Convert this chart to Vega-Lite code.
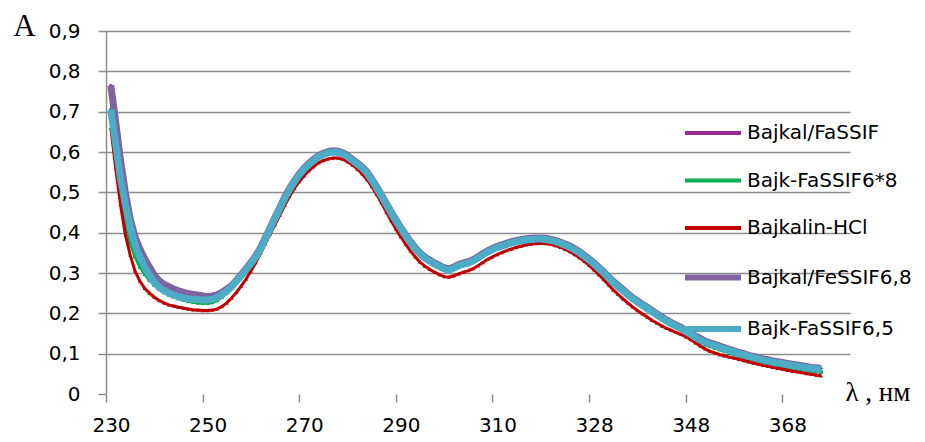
{
  "$schema": "https://vega.github.io/schema/vega-lite/v6.json",
  "width": 744,
  "height": 363,
  "autosize": {"type": "none"},
  "padding": {"left": 106, "top": 31, "right": 75, "bottom": 48},
  "background": "white",
  "config": {"view": {"stroke": null}, "font": "DejaVu Sans"},
  "data": {"values": [
{"i":1,"Bajkal/FaSSIF":0.765,"Bajk-FaSSIF6*8":0.704,"Bajkalin-HCl":0.660,"Bajkal/FeSSIF6,8":0.765,"Bajk-FaSSIF6,5":0.705},
{"i":2,"Bajkal/FaSSIF":0.670,"Bajk-FaSSIF6*8":0.580,"Bajkalin-HCl":0.560,"Bajkal/FeSSIF6,8":0.675,"Bajk-FaSSIF6,5":0.620},
{"i":3,"Bajkal/FaSSIF":0.575,"Bajk-FaSSIF6*8":0.490,"Bajkalin-HCl":0.470,"Bajkal/FeSSIF6,8":0.580,"Bajk-FaSSIF6,5":0.535},
{"i":4,"Bajkal/FaSSIF":0.500,"Bajk-FaSSIF6*8":0.420,"Bajkalin-HCl":0.395,"Bajkal/FeSSIF6,8":0.500,"Bajk-FaSSIF6,5":0.470},
{"i":5,"Bajkal/FaSSIF":0.439,"Bajk-FaSSIF6*8":0.375,"Bajkalin-HCl":0.345,"Bajkal/FeSSIF6,8":0.435,"Bajk-FaSSIF6,5":0.415},
{"i":6,"Bajkal/FaSSIF":0.394,"Bajk-FaSSIF6*8":0.340,"Bajkalin-HCl":0.305,"Bajkal/FeSSIF6,8":0.390,"Bajk-FaSSIF6,5":0.370},
{"i":7,"Bajkal/FaSSIF":0.364,"Bajk-FaSSIF6*8":0.315,"Bajkalin-HCl":0.280,"Bajkal/FeSSIF6,8":0.360,"Bajk-FaSSIF6,5":0.340},
{"i":8,"Bajkal/FaSSIF":0.339,"Bajk-FaSSIF6*8":0.297,"Bajkalin-HCl":0.262,"Bajkal/FeSSIF6,8":0.335,"Bajk-FaSSIF6,5":0.315},
{"i":9,"Bajkal/FaSSIF":0.319,"Bajk-FaSSIF6*8":0.282,"Bajkalin-HCl":0.250,"Bajkal/FeSSIF6,8":0.315,"Bajk-FaSSIF6,5":0.295},
{"i":10,"Bajkal/FaSSIF":0.299,"Bajk-FaSSIF6*8":0.270,"Bajkalin-HCl":0.240,"Bajkal/FeSSIF6,8":0.295,"Bajk-FaSSIF6,5":0.277},
{"i":11,"Bajkal/FaSSIF":0.285,"Bajk-FaSSIF6*8":0.260,"Bajkalin-HCl":0.232,"Bajkal/FeSSIF6,8":0.281,"Bajk-FaSSIF6,5":0.264},
{"i":12,"Bajkal/FaSSIF":0.276,"Bajk-FaSSIF6*8":0.252,"Bajkalin-HCl":0.226,"Bajkal/FeSSIF6,8":0.272,"Bajk-FaSSIF6,5":0.256},
{"i":13,"Bajkal/FaSSIF":0.270,"Bajk-FaSSIF6*8":0.246,"Bajkalin-HCl":0.221,"Bajkal/FeSSIF6,8":0.266,"Bajk-FaSSIF6,5":0.250},
{"i":14,"Bajkal/FaSSIF":0.264,"Bajk-FaSSIF6*8":0.241,"Bajkalin-HCl":0.218,"Bajkal/FeSSIF6,8":0.260,"Bajk-FaSSIF6,5":0.245},
{"i":15,"Bajkal/FaSSIF":0.260,"Bajk-FaSSIF6*8":0.237,"Bajkalin-HCl":0.215,"Bajkal/FeSSIF6,8":0.256,"Bajk-FaSSIF6,5":0.241},
{"i":16,"Bajkal/FaSSIF":0.256,"Bajk-FaSSIF6*8":0.233,"Bajkalin-HCl":0.213,"Bajkal/FeSSIF6,8":0.252,"Bajk-FaSSIF6,5":0.238},
{"i":17,"Bajkal/FaSSIF":0.253,"Bajk-FaSSIF6*8":0.230,"Bajkalin-HCl":0.211,"Bajkal/FeSSIF6,8":0.249,"Bajk-FaSSIF6,5":0.236},
{"i":18,"Bajkal/FaSSIF":0.251,"Bajk-FaSSIF6*8":0.228,"Bajkalin-HCl":0.209,"Bajkal/FeSSIF6,8":0.247,"Bajk-FaSSIF6,5":0.235},
{"i":19,"Bajkal/FaSSIF":0.249,"Bajk-FaSSIF6*8":0.226,"Bajkalin-HCl":0.208,"Bajkal/FeSSIF6,8":0.245,"Bajk-FaSSIF6,5":0.234},
{"i":20,"Bajkal/FaSSIF":0.247,"Bajk-FaSSIF6*8":0.225,"Bajkalin-HCl":0.207,"Bajkal/FeSSIF6,8":0.243,"Bajk-FaSSIF6,5":0.233},
{"i":21,"Bajkal/FaSSIF":0.246,"Bajk-FaSSIF6*8":0.225,"Bajkalin-HCl":0.207,"Bajkal/FeSSIF6,8":0.242,"Bajk-FaSSIF6,5":0.233},
{"i":22,"Bajkal/FaSSIF":0.247,"Bajk-FaSSIF6*8":0.227,"Bajkalin-HCl":0.208,"Bajkal/FeSSIF6,8":0.243,"Bajk-FaSSIF6,5":0.235},
{"i":23,"Bajkal/FaSSIF":0.250,"Bajk-FaSSIF6*8":0.232,"Bajkalin-HCl":0.211,"Bajkal/FeSSIF6,8":0.246,"Bajk-FaSSIF6,5":0.239},
{"i":24,"Bajkal/FaSSIF":0.256,"Bajk-FaSSIF6*8":0.240,"Bajkalin-HCl":0.217,"Bajkal/FeSSIF6,8":0.252,"Bajk-FaSSIF6,5":0.246},
{"i":25,"Bajkal/FaSSIF":0.260,"Bajk-FaSSIF6*8":0.250,"Bajkalin-HCl":0.226,"Bajkal/FeSSIF6,8":0.260,"Bajk-FaSSIF6,5":0.255},
{"i":26,"Bajkal/FaSSIF":0.269,"Bajk-FaSSIF6*8":0.263,"Bajkalin-HCl":0.238,"Bajkal/FeSSIF6,8":0.269,"Bajk-FaSSIF6,5":0.266},
{"i":27,"Bajkal/FaSSIF":0.282,"Bajk-FaSSIF6*8":0.278,"Bajkalin-HCl":0.252,"Bajkal/FeSSIF6,8":0.282,"Bajk-FaSSIF6,5":0.279},
{"i":28,"Bajkal/FaSSIF":0.296,"Bajk-FaSSIF6*8":0.295,"Bajkalin-HCl":0.268,"Bajkal/FeSSIF6,8":0.296,"Bajk-FaSSIF6,5":0.293},
{"i":29,"Bajkal/FaSSIF":0.311,"Bajk-FaSSIF6*8":0.311,"Bajkalin-HCl":0.285,"Bajkal/FeSSIF6,8":0.311,"Bajk-FaSSIF6,5":0.308},
{"i":30,"Bajkal/FaSSIF":0.326,"Bajk-FaSSIF6*8":0.327,"Bajkalin-HCl":0.305,"Bajkal/FeSSIF6,8":0.326,"Bajk-FaSSIF6,5":0.323},
{"i":31,"Bajkal/FaSSIF":0.343,"Bajk-FaSSIF6*8":0.344,"Bajkalin-HCl":0.326,"Bajkal/FeSSIF6,8":0.343,"Bajk-FaSSIF6,5":0.340},
{"i":32,"Bajkal/FaSSIF":0.363,"Bajk-FaSSIF6*8":0.364,"Bajkalin-HCl":0.349,"Bajkal/FeSSIF6,8":0.363,"Bajk-FaSSIF6,5":0.360},
{"i":33,"Bajkal/FaSSIF":0.388,"Bajk-FaSSIF6*8":0.388,"Bajkalin-HCl":0.373,"Bajkal/FeSSIF6,8":0.388,"Bajk-FaSSIF6,5":0.385},
{"i":34,"Bajkal/FaSSIF":0.413,"Bajk-FaSSIF6*8":0.412,"Bajkalin-HCl":0.397,"Bajkal/FeSSIF6,8":0.413,"Bajk-FaSSIF6,5":0.410},
{"i":35,"Bajkal/FaSSIF":0.439,"Bajk-FaSSIF6*8":0.437,"Bajkalin-HCl":0.420,"Bajkal/FeSSIF6,8":0.439,"Bajk-FaSSIF6,5":0.436},
{"i":36,"Bajkal/FaSSIF":0.463,"Bajk-FaSSIF6*8":0.459,"Bajkalin-HCl":0.444,"Bajkal/FeSSIF6,8":0.463,"Bajk-FaSSIF6,5":0.460},
{"i":37,"Bajkal/FaSSIF":0.488,"Bajk-FaSSIF6*8":0.484,"Bajkalin-HCl":0.468,"Bajkal/FeSSIF6,8":0.488,"Bajk-FaSSIF6,5":0.485},
{"i":38,"Bajkal/FaSSIF":0.510,"Bajk-FaSSIF6*8":0.506,"Bajkalin-HCl":0.490,"Bajkal/FeSSIF6,8":0.510,"Bajk-FaSSIF6,5":0.507},
{"i":39,"Bajkal/FaSSIF":0.529,"Bajk-FaSSIF6*8":0.525,"Bajkalin-HCl":0.510,"Bajkal/FeSSIF6,8":0.529,"Bajk-FaSSIF6,5":0.526},
{"i":40,"Bajkal/FaSSIF":0.546,"Bajk-FaSSIF6*8":0.542,"Bajkalin-HCl":0.527,"Bajkal/FeSSIF6,8":0.546,"Bajk-FaSSIF6,5":0.543},
{"i":41,"Bajkal/FaSSIF":0.560,"Bajk-FaSSIF6*8":0.556,"Bajkalin-HCl":0.541,"Bajkal/FeSSIF6,8":0.560,"Bajk-FaSSIF6,5":0.557},
{"i":42,"Bajkal/FaSSIF":0.572,"Bajk-FaSSIF6*8":0.568,"Bajkalin-HCl":0.554,"Bajkal/FeSSIF6,8":0.572,"Bajk-FaSSIF6,5":0.569},
{"i":43,"Bajkal/FaSSIF":0.582,"Bajk-FaSSIF6*8":0.578,"Bajkalin-HCl":0.564,"Bajkal/FeSSIF6,8":0.582,"Bajk-FaSSIF6,5":0.579},
{"i":44,"Bajkal/FaSSIF":0.591,"Bajk-FaSSIF6*8":0.587,"Bajkalin-HCl":0.573,"Bajkal/FeSSIF6,8":0.591,"Bajk-FaSSIF6,5":0.588},
{"i":45,"Bajkal/FaSSIF":0.597,"Bajk-FaSSIF6*8":0.593,"Bajkalin-HCl":0.579,"Bajkal/FeSSIF6,8":0.597,"Bajk-FaSSIF6,5":0.594},
{"i":46,"Bajkal/FaSSIF":0.601,"Bajk-FaSSIF6*8":0.597,"Bajkalin-HCl":0.583,"Bajkal/FeSSIF6,8":0.601,"Bajk-FaSSIF6,5":0.598},
{"i":47,"Bajkal/FaSSIF":0.603,"Bajk-FaSSIF6*8":0.599,"Bajkalin-HCl":0.585,"Bajkal/FeSSIF6,8":0.603,"Bajk-FaSSIF6,5":0.600},
{"i":48,"Bajkal/FaSSIF":0.602,"Bajk-FaSSIF6*8":0.598,"Bajkalin-HCl":0.585,"Bajkal/FeSSIF6,8":0.602,"Bajk-FaSSIF6,5":0.599},
{"i":49,"Bajkal/FaSSIF":0.598,"Bajk-FaSSIF6*8":0.594,"Bajkalin-HCl":0.582,"Bajkal/FeSSIF6,8":0.598,"Bajk-FaSSIF6,5":0.595},
{"i":50,"Bajkal/FaSSIF":0.591,"Bajk-FaSSIF6*8":0.587,"Bajkalin-HCl":0.576,"Bajkal/FeSSIF6,8":0.591,"Bajk-FaSSIF6,5":0.588},
{"i":51,"Bajkal/FaSSIF":0.582,"Bajk-FaSSIF6*8":0.578,"Bajkalin-HCl":0.568,"Bajkal/FeSSIF6,8":0.582,"Bajk-FaSSIF6,5":0.579},
{"i":52,"Bajkal/FaSSIF":0.573,"Bajk-FaSSIF6*8":0.569,"Bajkalin-HCl":0.558,"Bajkal/FeSSIF6,8":0.573,"Bajk-FaSSIF6,5":0.570},
{"i":53,"Bajkal/FaSSIF":0.563,"Bajk-FaSSIF6*8":0.559,"Bajkalin-HCl":0.546,"Bajkal/FeSSIF6,8":0.563,"Bajk-FaSSIF6,5":0.560},
{"i":54,"Bajkal/FaSSIF":0.551,"Bajk-FaSSIF6*8":0.547,"Bajkalin-HCl":0.532,"Bajkal/FeSSIF6,8":0.551,"Bajk-FaSSIF6,5":0.548},
{"i":55,"Bajkal/FaSSIF":0.533,"Bajk-FaSSIF6*8":0.529,"Bajkalin-HCl":0.515,"Bajkal/FeSSIF6,8":0.533,"Bajk-FaSSIF6,5":0.530},
{"i":56,"Bajkal/FaSSIF":0.514,"Bajk-FaSSIF6*8":0.510,"Bajkalin-HCl":0.495,"Bajkal/FeSSIF6,8":0.514,"Bajk-FaSSIF6,5":0.511},
{"i":57,"Bajkal/FaSSIF":0.494,"Bajk-FaSSIF6*8":0.490,"Bajkalin-HCl":0.474,"Bajkal/FeSSIF6,8":0.494,"Bajk-FaSSIF6,5":0.491},
{"i":58,"Bajkal/FaSSIF":0.473,"Bajk-FaSSIF6*8":0.469,"Bajkalin-HCl":0.452,"Bajkal/FeSSIF6,8":0.473,"Bajk-FaSSIF6,5":0.470},
{"i":59,"Bajkal/FaSSIF":0.452,"Bajk-FaSSIF6*8":0.448,"Bajkalin-HCl":0.430,"Bajkal/FeSSIF6,8":0.452,"Bajk-FaSSIF6,5":0.449},
{"i":60,"Bajkal/FaSSIF":0.432,"Bajk-FaSSIF6*8":0.428,"Bajkalin-HCl":0.409,"Bajkal/FeSSIF6,8":0.432,"Bajk-FaSSIF6,5":0.429},
{"i":61,"Bajkal/FaSSIF":0.413,"Bajk-FaSSIF6*8":0.409,"Bajkalin-HCl":0.390,"Bajkal/FeSSIF6,8":0.413,"Bajk-FaSSIF6,5":0.410},
{"i":62,"Bajkal/FaSSIF":0.395,"Bajk-FaSSIF6*8":0.391,"Bajkalin-HCl":0.372,"Bajkal/FeSSIF6,8":0.395,"Bajk-FaSSIF6,5":0.392},
{"i":63,"Bajkal/FaSSIF":0.378,"Bajk-FaSSIF6*8":0.374,"Bajkalin-HCl":0.355,"Bajkal/FeSSIF6,8":0.378,"Bajk-FaSSIF6,5":0.375},
{"i":64,"Bajkal/FaSSIF":0.363,"Bajk-FaSSIF6*8":0.359,"Bajkalin-HCl":0.340,"Bajkal/FeSSIF6,8":0.363,"Bajk-FaSSIF6,5":0.360},
{"i":65,"Bajkal/FaSSIF":0.350,"Bajk-FaSSIF6*8":0.346,"Bajkalin-HCl":0.327,"Bajkal/FeSSIF6,8":0.350,"Bajk-FaSSIF6,5":0.347},
{"i":66,"Bajkal/FaSSIF":0.340,"Bajk-FaSSIF6*8":0.336,"Bajkalin-HCl":0.317,"Bajkal/FeSSIF6,8":0.340,"Bajk-FaSSIF6,5":0.337},
{"i":67,"Bajkal/FaSSIF":0.332,"Bajk-FaSSIF6*8":0.328,"Bajkalin-HCl":0.309,"Bajkal/FeSSIF6,8":0.332,"Bajk-FaSSIF6,5":0.329},
{"i":68,"Bajkal/FaSSIF":0.325,"Bajk-FaSSIF6*8":0.321,"Bajkalin-HCl":0.302,"Bajkal/FeSSIF6,8":0.325,"Bajk-FaSSIF6,5":0.322},
{"i":69,"Bajkal/FaSSIF":0.319,"Bajk-FaSSIF6*8":0.315,"Bajkalin-HCl":0.296,"Bajkal/FeSSIF6,8":0.319,"Bajk-FaSSIF6,5":0.316},
{"i":70,"Bajkal/FaSSIF":0.313,"Bajk-FaSSIF6*8":0.309,"Bajkalin-HCl":0.291,"Bajkal/FeSSIF6,8":0.313,"Bajk-FaSSIF6,5":0.310},
{"i":71,"Bajkal/FaSSIF":0.310,"Bajk-FaSSIF6*8":0.306,"Bajkalin-HCl":0.290,"Bajkal/FeSSIF6,8":0.310,"Bajk-FaSSIF6,5":0.307},
{"i":72,"Bajkal/FaSSIF":0.315,"Bajk-FaSSIF6*8":0.311,"Bajkalin-HCl":0.293,"Bajkal/FeSSIF6,8":0.315,"Bajk-FaSSIF6,5":0.312},
{"i":73,"Bajkal/FaSSIF":0.321,"Bajk-FaSSIF6*8":0.317,"Bajkalin-HCl":0.298,"Bajkal/FeSSIF6,8":0.321,"Bajk-FaSSIF6,5":0.318},
{"i":74,"Bajkal/FaSSIF":0.325,"Bajk-FaSSIF6*8":0.321,"Bajkalin-HCl":0.302,"Bajkal/FeSSIF6,8":0.325,"Bajk-FaSSIF6,5":0.322},
{"i":75,"Bajkal/FaSSIF":0.328,"Bajk-FaSSIF6*8":0.324,"Bajkalin-HCl":0.306,"Bajkal/FeSSIF6,8":0.328,"Bajk-FaSSIF6,5":0.325},
{"i":76,"Bajkal/FaSSIF":0.333,"Bajk-FaSSIF6*8":0.329,"Bajkalin-HCl":0.311,"Bajkal/FeSSIF6,8":0.333,"Bajk-FaSSIF6,5":0.330},
{"i":77,"Bajkal/FaSSIF":0.340,"Bajk-FaSSIF6*8":0.336,"Bajkalin-HCl":0.318,"Bajkal/FeSSIF6,8":0.340,"Bajk-FaSSIF6,5":0.337},
{"i":78,"Bajkal/FaSSIF":0.348,"Bajk-FaSSIF6*8":0.344,"Bajkalin-HCl":0.326,"Bajkal/FeSSIF6,8":0.348,"Bajk-FaSSIF6,5":0.345},
{"i":79,"Bajkal/FaSSIF":0.355,"Bajk-FaSSIF6*8":0.351,"Bajkalin-HCl":0.334,"Bajkal/FeSSIF6,8":0.355,"Bajk-FaSSIF6,5":0.352},
{"i":80,"Bajkal/FaSSIF":0.361,"Bajk-FaSSIF6*8":0.357,"Bajkalin-HCl":0.340,"Bajkal/FeSSIF6,8":0.361,"Bajk-FaSSIF6,5":0.358},
{"i":81,"Bajkal/FaSSIF":0.366,"Bajk-FaSSIF6*8":0.362,"Bajkalin-HCl":0.346,"Bajkal/FeSSIF6,8":0.366,"Bajk-FaSSIF6,5":0.363},
{"i":82,"Bajkal/FaSSIF":0.370,"Bajk-FaSSIF6*8":0.366,"Bajkalin-HCl":0.351,"Bajkal/FeSSIF6,8":0.370,"Bajk-FaSSIF6,5":0.367},
{"i":83,"Bajkal/FaSSIF":0.374,"Bajk-FaSSIF6*8":0.370,"Bajkalin-HCl":0.356,"Bajkal/FeSSIF6,8":0.374,"Bajk-FaSSIF6,5":0.371},
{"i":84,"Bajkal/FaSSIF":0.378,"Bajk-FaSSIF6*8":0.374,"Bajkalin-HCl":0.360,"Bajkal/FeSSIF6,8":0.378,"Bajk-FaSSIF6,5":0.375},
{"i":85,"Bajkal/FaSSIF":0.381,"Bajk-FaSSIF6*8":0.377,"Bajkalin-HCl":0.364,"Bajkal/FeSSIF6,8":0.381,"Bajk-FaSSIF6,5":0.378},
{"i":86,"Bajkal/FaSSIF":0.383,"Bajk-FaSSIF6*8":0.379,"Bajkalin-HCl":0.367,"Bajkal/FeSSIF6,8":0.383,"Bajk-FaSSIF6,5":0.380},
{"i":87,"Bajkal/FaSSIF":0.385,"Bajk-FaSSIF6*8":0.381,"Bajkalin-HCl":0.370,"Bajkal/FeSSIF6,8":0.385,"Bajk-FaSSIF6,5":0.382},
{"i":88,"Bajkal/FaSSIF":0.386,"Bajk-FaSSIF6*8":0.382,"Bajkalin-HCl":0.372,"Bajkal/FeSSIF6,8":0.386,"Bajk-FaSSIF6,5":0.383},
{"i":89,"Bajkal/FaSSIF":0.387,"Bajk-FaSSIF6*8":0.383,"Bajkalin-HCl":0.373,"Bajkal/FeSSIF6,8":0.387,"Bajk-FaSSIF6,5":0.384},
{"i":90,"Bajkal/FaSSIF":0.387,"Bajk-FaSSIF6*8":0.383,"Bajkalin-HCl":0.374,"Bajkal/FeSSIF6,8":0.387,"Bajk-FaSSIF6,5":0.384},
{"i":91,"Bajkal/FaSSIF":0.386,"Bajk-FaSSIF6*8":0.382,"Bajkalin-HCl":0.373,"Bajkal/FeSSIF6,8":0.386,"Bajk-FaSSIF6,5":0.383},
{"i":92,"Bajkal/FaSSIF":0.384,"Bajk-FaSSIF6*8":0.380,"Bajkalin-HCl":0.371,"Bajkal/FeSSIF6,8":0.384,"Bajk-FaSSIF6,5":0.381},
{"i":93,"Bajkal/FaSSIF":0.381,"Bajk-FaSSIF6*8":0.377,"Bajkalin-HCl":0.368,"Bajkal/FeSSIF6,8":0.381,"Bajk-FaSSIF6,5":0.378},
{"i":94,"Bajkal/FaSSIF":0.377,"Bajk-FaSSIF6*8":0.373,"Bajkalin-HCl":0.364,"Bajkal/FeSSIF6,8":0.377,"Bajk-FaSSIF6,5":0.374},
{"i":95,"Bajkal/FaSSIF":0.372,"Bajk-FaSSIF6*8":0.368,"Bajkalin-HCl":0.359,"Bajkal/FeSSIF6,8":0.372,"Bajk-FaSSIF6,5":0.369},
{"i":96,"Bajkal/FaSSIF":0.367,"Bajk-FaSSIF6*8":0.363,"Bajkalin-HCl":0.353,"Bajkal/FeSSIF6,8":0.367,"Bajk-FaSSIF6,5":0.364},
{"i":97,"Bajkal/FaSSIF":0.360,"Bajk-FaSSIF6*8":0.356,"Bajkalin-HCl":0.346,"Bajkal/FeSSIF6,8":0.360,"Bajk-FaSSIF6,5":0.357},
{"i":98,"Bajkal/FaSSIF":0.353,"Bajk-FaSSIF6*8":0.349,"Bajkalin-HCl":0.338,"Bajkal/FeSSIF6,8":0.353,"Bajk-FaSSIF6,5":0.350},
{"i":99,"Bajkal/FaSSIF":0.344,"Bajk-FaSSIF6*8":0.340,"Bajkalin-HCl":0.329,"Bajkal/FeSSIF6,8":0.344,"Bajk-FaSSIF6,5":0.341},
{"i":100,"Bajkal/FaSSIF":0.335,"Bajk-FaSSIF6*8":0.331,"Bajkalin-HCl":0.319,"Bajkal/FeSSIF6,8":0.335,"Bajk-FaSSIF6,5":0.332},
{"i":101,"Bajkal/FaSSIF":0.325,"Bajk-FaSSIF6*8":0.321,"Bajkalin-HCl":0.308,"Bajkal/FeSSIF6,8":0.325,"Bajk-FaSSIF6,5":0.322},
{"i":102,"Bajkal/FaSSIF":0.314,"Bajk-FaSSIF6*8":0.310,"Bajkalin-HCl":0.296,"Bajkal/FeSSIF6,8":0.314,"Bajk-FaSSIF6,5":0.311},
{"i":103,"Bajkal/FaSSIF":0.303,"Bajk-FaSSIF6*8":0.299,"Bajkalin-HCl":0.284,"Bajkal/FeSSIF6,8":0.303,"Bajk-FaSSIF6,5":0.300},
{"i":104,"Bajkal/FaSSIF":0.291,"Bajk-FaSSIF6*8":0.287,"Bajkalin-HCl":0.271,"Bajkal/FeSSIF6,8":0.291,"Bajk-FaSSIF6,5":0.288},
{"i":105,"Bajkal/FaSSIF":0.279,"Bajk-FaSSIF6*8":0.275,"Bajkalin-HCl":0.258,"Bajkal/FeSSIF6,8":0.279,"Bajk-FaSSIF6,5":0.276},
{"i":106,"Bajkal/FaSSIF":0.269,"Bajk-FaSSIF6*8":0.265,"Bajkalin-HCl":0.247,"Bajkal/FeSSIF6,8":0.269,"Bajk-FaSSIF6,5":0.266},
{"i":107,"Bajkal/FaSSIF":0.259,"Bajk-FaSSIF6*8":0.255,"Bajkalin-HCl":0.236,"Bajkal/FeSSIF6,8":0.259,"Bajk-FaSSIF6,5":0.256},
{"i":108,"Bajkal/FaSSIF":0.249,"Bajk-FaSSIF6*8":0.245,"Bajkalin-HCl":0.226,"Bajkal/FeSSIF6,8":0.249,"Bajk-FaSSIF6,5":0.246},
{"i":109,"Bajkal/FaSSIF":0.239,"Bajk-FaSSIF6*8":0.235,"Bajkalin-HCl":0.216,"Bajkal/FeSSIF6,8":0.239,"Bajk-FaSSIF6,5":0.236},
{"i":110,"Bajkal/FaSSIF":0.231,"Bajk-FaSSIF6*8":0.227,"Bajkalin-HCl":0.207,"Bajkal/FeSSIF6,8":0.231,"Bajk-FaSSIF6,5":0.228},
{"i":111,"Bajkal/FaSSIF":0.223,"Bajk-FaSSIF6*8":0.219,"Bajkalin-HCl":0.199,"Bajkal/FeSSIF6,8":0.223,"Bajk-FaSSIF6,5":0.220},
{"i":112,"Bajkal/FaSSIF":0.215,"Bajk-FaSSIF6*8":0.211,"Bajkalin-HCl":0.191,"Bajkal/FeSSIF6,8":0.215,"Bajk-FaSSIF6,5":0.212},
{"i":113,"Bajkal/FaSSIF":0.207,"Bajk-FaSSIF6*8":0.203,"Bajkalin-HCl":0.183,"Bajkal/FeSSIF6,8":0.207,"Bajk-FaSSIF6,5":0.204},
{"i":114,"Bajkal/FaSSIF":0.199,"Bajk-FaSSIF6*8":0.195,"Bajkalin-HCl":0.176,"Bajkal/FeSSIF6,8":0.199,"Bajk-FaSSIF6,5":0.196},
{"i":115,"Bajkal/FaSSIF":0.191,"Bajk-FaSSIF6*8":0.187,"Bajkalin-HCl":0.169,"Bajkal/FeSSIF6,8":0.191,"Bajk-FaSSIF6,5":0.188},
{"i":116,"Bajkal/FaSSIF":0.184,"Bajk-FaSSIF6*8":0.180,"Bajkalin-HCl":0.163,"Bajkal/FeSSIF6,8":0.184,"Bajk-FaSSIF6,5":0.181},
{"i":117,"Bajkal/FaSSIF":0.177,"Bajk-FaSSIF6*8":0.173,"Bajkalin-HCl":0.158,"Bajkal/FeSSIF6,8":0.177,"Bajk-FaSSIF6,5":0.174},
{"i":118,"Bajkal/FaSSIF":0.171,"Bajk-FaSSIF6*8":0.167,"Bajkalin-HCl":0.153,"Bajkal/FeSSIF6,8":0.171,"Bajk-FaSSIF6,5":0.168},
{"i":119,"Bajkal/FaSSIF":0.165,"Bajk-FaSSIF6*8":0.161,"Bajkalin-HCl":0.148,"Bajkal/FeSSIF6,8":0.165,"Bajk-FaSSIF6,5":0.162},
{"i":120,"Bajkal/FaSSIF":0.158,"Bajk-FaSSIF6*8":0.154,"Bajkalin-HCl":0.142,"Bajkal/FeSSIF6,8":0.158,"Bajk-FaSSIF6,5":0.155},
{"i":121,"Bajkal/FaSSIF":0.151,"Bajk-FaSSIF6*8":0.147,"Bajkalin-HCl":0.135,"Bajkal/FeSSIF6,8":0.151,"Bajk-FaSSIF6,5":0.148},
{"i":122,"Bajkal/FaSSIF":0.144,"Bajk-FaSSIF6*8":0.139,"Bajkalin-HCl":0.127,"Bajkal/FeSSIF6,8":0.144,"Bajk-FaSSIF6,5":0.140},
{"i":123,"Bajkal/FaSSIF":0.138,"Bajk-FaSSIF6*8":0.128,"Bajkalin-HCl":0.119,"Bajkal/FeSSIF6,8":0.138,"Bajk-FaSSIF6,5":0.134},
{"i":124,"Bajkal/FaSSIF":0.131,"Bajk-FaSSIF6*8":0.122,"Bajkalin-HCl":0.112,"Bajkal/FeSSIF6,8":0.131,"Bajk-FaSSIF6,5":0.128},
{"i":125,"Bajkal/FaSSIF":0.127,"Bajk-FaSSIF6*8":0.118,"Bajkalin-HCl":0.106,"Bajkal/FeSSIF6,8":0.127,"Bajk-FaSSIF6,5":0.124},
{"i":126,"Bajkal/FaSSIF":0.123,"Bajk-FaSSIF6*8":0.114,"Bajkalin-HCl":0.102,"Bajkal/FeSSIF6,8":0.123,"Bajk-FaSSIF6,5":0.120},
{"i":127,"Bajkal/FaSSIF":0.119,"Bajk-FaSSIF6*8":0.110,"Bajkalin-HCl":0.098,"Bajkal/FeSSIF6,8":0.119,"Bajk-FaSSIF6,5":0.116},
{"i":128,"Bajkal/FaSSIF":0.115,"Bajk-FaSSIF6*8":0.106,"Bajkalin-HCl":0.095,"Bajkal/FeSSIF6,8":0.115,"Bajk-FaSSIF6,5":0.112},
{"i":129,"Bajkal/FaSSIF":0.111,"Bajk-FaSSIF6*8":0.102,"Bajkalin-HCl":0.092,"Bajkal/FeSSIF6,8":0.111,"Bajk-FaSSIF6,5":0.108},
{"i":130,"Bajkal/FaSSIF":0.107,"Bajk-FaSSIF6*8":0.098,"Bajkalin-HCl":0.089,"Bajkal/FeSSIF6,8":0.107,"Bajk-FaSSIF6,5":0.104},
{"i":131,"Bajkal/FaSSIF":0.103,"Bajk-FaSSIF6*8":0.094,"Bajkalin-HCl":0.086,"Bajkal/FeSSIF6,8":0.103,"Bajk-FaSSIF6,5":0.100},
{"i":132,"Bajkal/FaSSIF":0.100,"Bajk-FaSSIF6*8":0.091,"Bajkalin-HCl":0.083,"Bajkal/FeSSIF6,8":0.100,"Bajk-FaSSIF6,5":0.097},
{"i":133,"Bajkal/FaSSIF":0.096,"Bajk-FaSSIF6*8":0.087,"Bajkalin-HCl":0.080,"Bajkal/FeSSIF6,8":0.096,"Bajk-FaSSIF6,5":0.093},
{"i":134,"Bajkal/FaSSIF":0.093,"Bajk-FaSSIF6*8":0.084,"Bajkalin-HCl":0.077,"Bajkal/FeSSIF6,8":0.093,"Bajk-FaSSIF6,5":0.090},
{"i":135,"Bajkal/FaSSIF":0.090,"Bajk-FaSSIF6*8":0.081,"Bajkalin-HCl":0.074,"Bajkal/FeSSIF6,8":0.090,"Bajk-FaSSIF6,5":0.087},
{"i":136,"Bajkal/FaSSIF":0.087,"Bajk-FaSSIF6*8":0.078,"Bajkalin-HCl":0.071,"Bajkal/FeSSIF6,8":0.087,"Bajk-FaSSIF6,5":0.084},
{"i":137,"Bajkal/FaSSIF":0.085,"Bajk-FaSSIF6*8":0.076,"Bajkalin-HCl":0.069,"Bajkal/FeSSIF6,8":0.085,"Bajk-FaSSIF6,5":0.082},
{"i":138,"Bajkal/FaSSIF":0.082,"Bajk-FaSSIF6*8":0.073,"Bajkalin-HCl":0.066,"Bajkal/FeSSIF6,8":0.082,"Bajk-FaSSIF6,5":0.079},
{"i":139,"Bajkal/FaSSIF":0.080,"Bajk-FaSSIF6*8":0.071,"Bajkalin-HCl":0.064,"Bajkal/FeSSIF6,8":0.080,"Bajk-FaSSIF6,5":0.077},
{"i":140,"Bajkal/FaSSIF":0.078,"Bajk-FaSSIF6*8":0.069,"Bajkalin-HCl":0.062,"Bajkal/FeSSIF6,8":0.078,"Bajk-FaSSIF6,5":0.075},
{"i":141,"Bajkal/FaSSIF":0.076,"Bajk-FaSSIF6*8":0.067,"Bajkalin-HCl":0.059,"Bajkal/FeSSIF6,8":0.076,"Bajk-FaSSIF6,5":0.073},
{"i":142,"Bajkal/FaSSIF":0.074,"Bajk-FaSSIF6*8":0.065,"Bajkalin-HCl":0.057,"Bajkal/FeSSIF6,8":0.074,"Bajk-FaSSIF6,5":0.071},
{"i":143,"Bajkal/FaSSIF":0.072,"Bajk-FaSSIF6*8":0.063,"Bajkalin-HCl":0.055,"Bajkal/FeSSIF6,8":0.072,"Bajk-FaSSIF6,5":0.069},
{"i":144,"Bajkal/FaSSIF":0.070,"Bajk-FaSSIF6*8":0.061,"Bajkalin-HCl":0.053,"Bajkal/FeSSIF6,8":0.070,"Bajk-FaSSIF6,5":0.067},
{"i":145,"Bajkal/FaSSIF":0.068,"Bajk-FaSSIF6*8":0.059,"Bajkalin-HCl":0.051,"Bajkal/FeSSIF6,8":0.068,"Bajk-FaSSIF6,5":0.065},
{"i":146,"Bajkal/FaSSIF":0.066,"Bajk-FaSSIF6*8":0.057,"Bajkalin-HCl":0.049,"Bajkal/FeSSIF6,8":0.066,"Bajk-FaSSIF6,5":0.063},
{"i":147,"Bajkal/FaSSIF":0.065,"Bajk-FaSSIF6*8":0.056,"Bajkalin-HCl":0.047,"Bajkal/FeSSIF6,8":0.065,"Bajk-FaSSIF6,5":0.062},
{"i":148,"Bajkal/FaSSIF":0.063,"Bajk-FaSSIF6*8":0.054,"Bajkalin-HCl":0.045,"Bajkal/FeSSIF6,8":0.063,"Bajk-FaSSIF6,5":0.060}
  ]},
  "transform": [
    {"fold": ["Bajkal/FaSSIF", "Bajk-FaSSIF6*8", "Bajkalin-HCl", "Bajkal/FeSSIF6,8", "Bajk-FaSSIF6,5"], "as": ["series", "A"]}
  ],
  "encoding": {
    "x": {
      "field": "i", "type": "quantitative",
      "scale": {"domain": [0, 154], "nice": false, "zero": false},
      "axis": {
        "values": [0, 20, 40, 60, 80, 100, 120, 140],
        "labelExpr": "['230','250','270','290','310','328','348','368'][round(datum.value / 20)]",
        "grid": false, "domain": false,
        "tickSize": 8, "tickColor": "#8c8c8c", "tickWidth": 1.5,
        "labelFont": "DejaVu Sans", "labelFontSize": 20, "labelColor": "#000000",
        "labelPadding": 13, "labelOffset": 5, "labelFlush": false, "labelOverlap": false,
        "title": "λ , нм", "titleFont": "Liberation Serif", "titleFontSize": 27, "titleFontWeight": "normal",
        "titleColor": "#000000", "titleX": 739, "titleY": 6, "titleAlign": "left", "titleBaseline": "alphabetic", "titleAnchor": null
      }
    },
    "y": {
      "field": "A", "type": "quantitative",
      "scale": {"domain": [0, 0.9], "nice": false},
      "axis": {
        "values": [0, 0.1, 0.2, 0.3, 0.4, 0.5, 0.6, 0.7, 0.8, 0.9],
        "labelExpr": "datum.value == 0 ? '0' : replace(format(datum.value, '.1f'), '.', ',')",
        "labelFont": "DejaVu Sans", "labelFontSize": 20, "labelColor": "#000000", "labelPadding": 18,
        "tickSize": 8, "tickColor": "#8c8c8c", "tickWidth": 1.5,
        "domainColor": "#8c8c8c", "domainWidth": 1.5,
        "grid": true, "gridColor": "#8c8c8c", "gridWidth": 1.5,
        "gridOpacity": {"condition": {"test": "datum.value === 0", "value": 0}, "value": 1},
        "title": "A", "titleAngle": 0, "titleFont": "Liberation Serif", "titleFontSize": 31, "titleFontWeight": "normal",
        "titleColor": "#000000", "titleX": -82, "titleY": 4, "titleAlign": "center", "titleBaseline": "alphabetic", "titleAnchor": null
      }
    },
    "color": {
      "field": "series", "type": "nominal",
      "scale": {
        "domain": ["Bajkal/FaSSIF", "Bajk-FaSSIF6*8", "Bajkalin-HCl", "Bajkal/FeSSIF6,8", "Bajk-FaSSIF6,5"],
        "range": ["#9b2a98", "#00b050", "#c00000", "#8064a2", "#4bacc6"]
      },
      "legend": {
        "orient": "none", "legendX": 597, "legendY": 92, "title": null,
        "symbolType": "stroke", "symbolSize": 3136, "symbolStrokeWidth": 4,
        "labelFont": "DejaVu Sans", "labelFontSize": 20, "labelColor": "#000000", "labelOffset": 24, "labelLimit": 400,
        "padding": 0, "rowPadding": 27.5,
        "encode": {"symbols": {"update": {"strokeWidth": {"signal": "datum.value === 'Bajkal/FeSSIF6,8' || datum.value === 'Bajk-FaSSIF6,5' ? 6 : 4"}}}}
      }
    }
  },
  "layer": [
    {"transform": [{"filter": "datum.series === 'Bajkal/FaSSIF'"}], "mark": {"type": "line", "strokeWidth": 3}},
    {"transform": [{"filter": "datum.series === 'Bajkal/FaSSIF'"}], "mark": {"type": "point", "shape": "diamond", "filled": true, "size": 16, "opacity": 1}},
    {"transform": [{"filter": "datum.series === 'Bajk-FaSSIF6*8'"}], "mark": {"type": "line", "strokeWidth": 3}},
    {"transform": [{"filter": "datum.series === 'Bajk-FaSSIF6*8'"}], "mark": {"type": "point", "shape": "square", "filled": true, "size": 14, "opacity": 1}},
    {"transform": [{"filter": "datum.series === 'Bajkalin-HCl'"}], "mark": {"type": "line", "strokeWidth": 3}},
    {"transform": [{"filter": "datum.series === 'Bajkalin-HCl'"}], "mark": {"type": "point", "shape": "triangle-up", "filled": true, "size": 16, "opacity": 1}},
    {"transform": [{"filter": "datum.series === 'Bajkal/FeSSIF6,8'"}], "mark": {"type": "line", "strokeWidth": 7}},
    {"transform": [{"filter": "datum.series === 'Bajk-FaSSIF6,5'"}], "mark": {"type": "line", "strokeWidth": 7}},
    {
      "data": {"values": [{}]},
      "mark": {"type": "rule", "color": "#8c8c8c", "strokeWidth": 1.5},
      "encoding": {
        "x": {"datum": 0, "type": "quantitative"},
        "x2": {"datum": 148.4},
        "y": {"datum": 0, "type": "quantitative"},
        "color": {"value": "#8c8c8c"}
      }
    }
  ]
}
